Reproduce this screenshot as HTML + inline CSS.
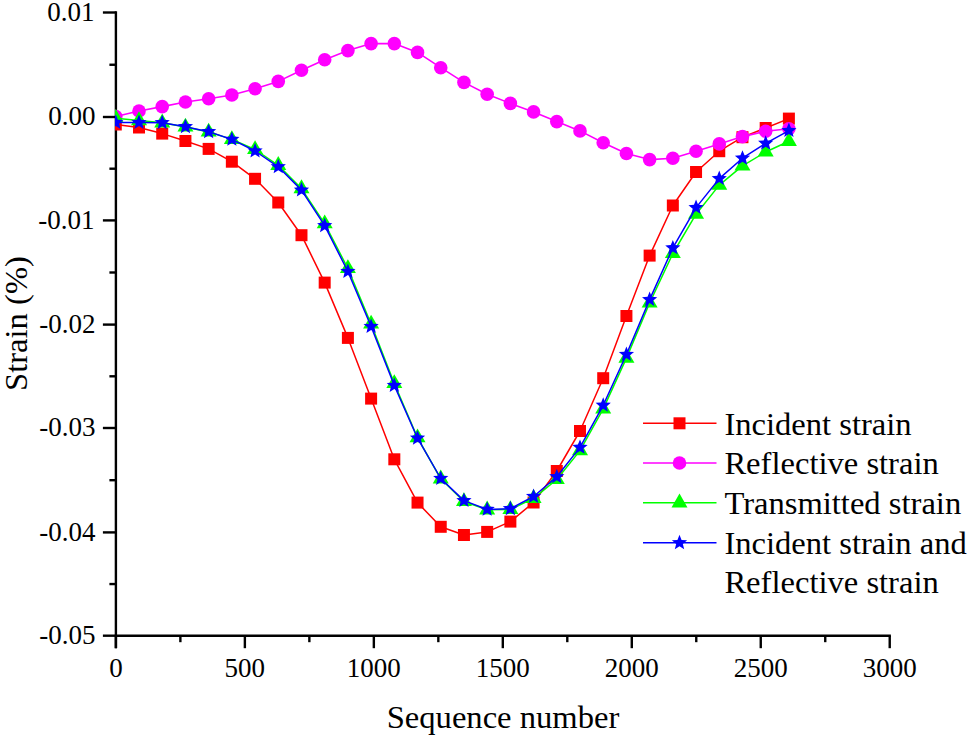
<!DOCTYPE html>
<html><head><meta charset="utf-8"><style>
html,body{margin:0;padding:0;background:#fff;}
body{width:968px;height:738px;overflow:hidden;}
svg{display:block;}
text{font-family:"Liberation Serif", serif;fill:#000;}
</style></head><body>
<svg width="968" height="738" viewBox="0 0 968 738">
<defs><clipPath id="pa"><rect x="115" y="0" width="780" height="636"/></clipPath></defs>
<rect width="968" height="738" fill="#fff"/>
<line x1="115.9" y1="11.35" x2="115.9" y2="648.2" stroke="#000" stroke-width="2.4"/>
<line x1="114.75" y1="635.7" x2="890.8699999999999" y2="635.7" stroke="#000" stroke-width="2.4"/>
<line x1="102.9" y1="12.50" x2="115.9" y2="12.50" stroke="#000" stroke-width="2.4"/>
<line x1="109.4" y1="64.75" x2="115.9" y2="64.75" stroke="#000" stroke-width="2.4"/>
<text x="94.5" y="20.70" font-size="27" text-anchor="end">0.01</text>
<line x1="102.9" y1="117.00" x2="115.9" y2="117.00" stroke="#000" stroke-width="2.4"/>
<line x1="109.4" y1="168.70" x2="115.9" y2="168.70" stroke="#000" stroke-width="2.4"/>
<text x="95.5" y="125.20" font-size="27" text-anchor="end">0.00</text>
<line x1="102.9" y1="220.40" x2="115.9" y2="220.40" stroke="#000" stroke-width="2.4"/>
<line x1="109.4" y1="272.50" x2="115.9" y2="272.50" stroke="#000" stroke-width="2.4"/>
<text x="94.5" y="228.60" font-size="27" text-anchor="end">-0.01</text>
<line x1="102.9" y1="324.60" x2="115.9" y2="324.60" stroke="#000" stroke-width="2.4"/>
<line x1="109.4" y1="376.30" x2="115.9" y2="376.30" stroke="#000" stroke-width="2.4"/>
<text x="95.5" y="332.80" font-size="27" text-anchor="end">-0.02</text>
<line x1="102.9" y1="428.00" x2="115.9" y2="428.00" stroke="#000" stroke-width="2.4"/>
<line x1="109.4" y1="480.20" x2="115.9" y2="480.20" stroke="#000" stroke-width="2.4"/>
<text x="95.5" y="436.20" font-size="27" text-anchor="end">-0.03</text>
<line x1="102.9" y1="532.40" x2="115.9" y2="532.40" stroke="#000" stroke-width="2.4"/>
<line x1="109.4" y1="584.05" x2="115.9" y2="584.05" stroke="#000" stroke-width="2.4"/>
<text x="95.5" y="540.60" font-size="27" text-anchor="end">-0.04</text>
<line x1="102.9" y1="635.70" x2="115.9" y2="635.70" stroke="#000" stroke-width="2.4"/>
<text x="95.5" y="643.90" font-size="27" text-anchor="end">-0.05</text>
<line x1="115.90" y1="635.7" x2="115.90" y2="648.2" stroke="#000" stroke-width="2.4"/>
<line x1="180.38" y1="635.7" x2="180.38" y2="642.2" stroke="#000" stroke-width="2.4"/>
<text x="115.90" y="676.8" font-size="27" text-anchor="middle">0</text>
<line x1="244.87" y1="635.7" x2="244.87" y2="648.2" stroke="#000" stroke-width="2.4"/>
<line x1="309.36" y1="635.7" x2="309.36" y2="642.2" stroke="#000" stroke-width="2.4"/>
<text x="244.87" y="676.8" font-size="27" text-anchor="middle">500</text>
<line x1="373.84" y1="635.7" x2="373.84" y2="648.2" stroke="#000" stroke-width="2.4"/>
<line x1="438.33" y1="635.7" x2="438.33" y2="642.2" stroke="#000" stroke-width="2.4"/>
<text x="373.84" y="676.8" font-size="27" text-anchor="middle">1000</text>
<line x1="502.81" y1="635.7" x2="502.81" y2="648.2" stroke="#000" stroke-width="2.4"/>
<line x1="567.29" y1="635.7" x2="567.29" y2="642.2" stroke="#000" stroke-width="2.4"/>
<text x="502.81" y="676.8" font-size="27" text-anchor="middle">1500</text>
<line x1="631.78" y1="635.7" x2="631.78" y2="648.2" stroke="#000" stroke-width="2.4"/>
<line x1="696.26" y1="635.7" x2="696.26" y2="642.2" stroke="#000" stroke-width="2.4"/>
<text x="631.78" y="676.8" font-size="27" text-anchor="middle">2000</text>
<line x1="760.75" y1="635.7" x2="760.75" y2="648.2" stroke="#000" stroke-width="2.4"/>
<line x1="825.24" y1="635.7" x2="825.24" y2="642.2" stroke="#000" stroke-width="2.4"/>
<text x="760.75" y="676.8" font-size="27" text-anchor="middle">2500</text>
<line x1="889.72" y1="635.7" x2="889.72" y2="648.2" stroke="#000" stroke-width="2.4"/>
<text x="889.72" y="676.8" font-size="27" text-anchor="middle">3000</text>
<g clip-path="url(#pa)">
<polyline points="115.80,124.50 139.01,127.50 162.22,133.60 185.43,141.00 208.64,148.90 231.85,161.70 255.06,178.80 278.27,202.50 301.48,235.20 324.69,282.60 347.90,337.90 371.11,398.60 394.32,459.30 417.53,502.60 440.74,526.80 463.95,535.00 487.16,531.90 510.37,521.60 533.58,502.50 556.79,471.00 580.00,431.00 603.21,378.20 626.42,316.00 649.63,255.60 672.84,205.50 696.05,172.00 719.26,151.20 742.47,137.20 765.68,128.00 788.89,118.60" fill="none" stroke="#ff0000" stroke-width="1.5" stroke-linejoin="round"/>
<rect x="109.80" y="118.50" width="12.0" height="12.0" fill="#ff0000"/>
<rect x="133.01" y="121.50" width="12.0" height="12.0" fill="#ff0000"/>
<rect x="156.22" y="127.60" width="12.0" height="12.0" fill="#ff0000"/>
<rect x="179.43" y="135.00" width="12.0" height="12.0" fill="#ff0000"/>
<rect x="202.64" y="142.90" width="12.0" height="12.0" fill="#ff0000"/>
<rect x="225.85" y="155.70" width="12.0" height="12.0" fill="#ff0000"/>
<rect x="249.06" y="172.80" width="12.0" height="12.0" fill="#ff0000"/>
<rect x="272.27" y="196.50" width="12.0" height="12.0" fill="#ff0000"/>
<rect x="295.48" y="229.20" width="12.0" height="12.0" fill="#ff0000"/>
<rect x="318.69" y="276.60" width="12.0" height="12.0" fill="#ff0000"/>
<rect x="341.90" y="331.90" width="12.0" height="12.0" fill="#ff0000"/>
<rect x="365.11" y="392.60" width="12.0" height="12.0" fill="#ff0000"/>
<rect x="388.32" y="453.30" width="12.0" height="12.0" fill="#ff0000"/>
<rect x="411.53" y="496.60" width="12.0" height="12.0" fill="#ff0000"/>
<rect x="434.74" y="520.80" width="12.0" height="12.0" fill="#ff0000"/>
<rect x="457.95" y="529.00" width="12.0" height="12.0" fill="#ff0000"/>
<rect x="481.16" y="525.90" width="12.0" height="12.0" fill="#ff0000"/>
<rect x="504.37" y="515.60" width="12.0" height="12.0" fill="#ff0000"/>
<rect x="527.58" y="496.50" width="12.0" height="12.0" fill="#ff0000"/>
<rect x="550.79" y="465.00" width="12.0" height="12.0" fill="#ff0000"/>
<rect x="574.00" y="425.00" width="12.0" height="12.0" fill="#ff0000"/>
<rect x="597.21" y="372.20" width="12.0" height="12.0" fill="#ff0000"/>
<rect x="620.42" y="310.00" width="12.0" height="12.0" fill="#ff0000"/>
<rect x="643.63" y="249.60" width="12.0" height="12.0" fill="#ff0000"/>
<rect x="666.84" y="199.50" width="12.0" height="12.0" fill="#ff0000"/>
<rect x="690.05" y="166.00" width="12.0" height="12.0" fill="#ff0000"/>
<rect x="713.26" y="145.20" width="12.0" height="12.0" fill="#ff0000"/>
<rect x="736.47" y="131.20" width="12.0" height="12.0" fill="#ff0000"/>
<rect x="759.68" y="122.00" width="12.0" height="12.0" fill="#ff0000"/>
<rect x="782.89" y="112.60" width="12.0" height="12.0" fill="#ff0000"/>
<polyline points="115.80,116.50 139.01,111.00 162.22,106.60 185.43,102.00 208.64,98.70 231.85,95.00 255.06,88.80 278.27,81.40 301.48,70.20 324.69,59.70 347.90,50.60 371.11,43.60 394.32,43.60 417.53,52.40 440.74,67.70 463.95,82.40 487.16,94.30 510.37,103.40 533.58,111.90 556.79,121.60 580.00,130.90 603.21,142.70 626.42,153.50 649.63,159.60 672.84,158.20 696.05,151.20 719.26,143.90 742.47,136.60 765.68,131.30 788.89,128.80" fill="none" stroke="#ff00ff" stroke-width="1.6" stroke-linejoin="round"/>
<circle cx="115.80" cy="116.50" r="6.8" fill="#ff00ff"/>
<circle cx="139.01" cy="111.00" r="6.8" fill="#ff00ff"/>
<circle cx="162.22" cy="106.60" r="6.8" fill="#ff00ff"/>
<circle cx="185.43" cy="102.00" r="6.8" fill="#ff00ff"/>
<circle cx="208.64" cy="98.70" r="6.8" fill="#ff00ff"/>
<circle cx="231.85" cy="95.00" r="6.8" fill="#ff00ff"/>
<circle cx="255.06" cy="88.80" r="6.8" fill="#ff00ff"/>
<circle cx="278.27" cy="81.40" r="6.8" fill="#ff00ff"/>
<circle cx="301.48" cy="70.20" r="6.8" fill="#ff00ff"/>
<circle cx="324.69" cy="59.70" r="6.8" fill="#ff00ff"/>
<circle cx="347.90" cy="50.60" r="6.8" fill="#ff00ff"/>
<circle cx="371.11" cy="43.60" r="6.8" fill="#ff00ff"/>
<circle cx="394.32" cy="43.60" r="6.8" fill="#ff00ff"/>
<circle cx="417.53" cy="52.40" r="6.8" fill="#ff00ff"/>
<circle cx="440.74" cy="67.70" r="6.8" fill="#ff00ff"/>
<circle cx="463.95" cy="82.40" r="6.8" fill="#ff00ff"/>
<circle cx="487.16" cy="94.30" r="6.8" fill="#ff00ff"/>
<circle cx="510.37" cy="103.40" r="6.8" fill="#ff00ff"/>
<circle cx="533.58" cy="111.90" r="6.8" fill="#ff00ff"/>
<circle cx="556.79" cy="121.60" r="6.8" fill="#ff00ff"/>
<circle cx="580.00" cy="130.90" r="6.8" fill="#ff00ff"/>
<circle cx="603.21" cy="142.70" r="6.8" fill="#ff00ff"/>
<circle cx="626.42" cy="153.50" r="6.8" fill="#ff00ff"/>
<circle cx="649.63" cy="159.60" r="6.8" fill="#ff00ff"/>
<circle cx="672.84" cy="158.20" r="6.8" fill="#ff00ff"/>
<circle cx="696.05" cy="151.20" r="6.8" fill="#ff00ff"/>
<circle cx="719.26" cy="143.90" r="6.8" fill="#ff00ff"/>
<circle cx="742.47" cy="136.60" r="6.8" fill="#ff00ff"/>
<circle cx="765.68" cy="131.30" r="6.8" fill="#ff00ff"/>
<circle cx="788.89" cy="128.80" r="6.8" fill="#ff00ff"/>
<polyline points="115.80,118.30 139.01,120.60 162.22,122.80 185.43,126.90 208.64,131.90 231.85,139.40 255.06,149.50 278.27,165.30 301.48,188.60 324.69,223.70 347.90,268.50 371.11,324.00 394.32,383.50 417.53,437.70 440.74,478.80 463.95,501.50 487.16,509.80 510.37,509.50 533.58,498.30 556.79,479.50 580.00,450.60 603.21,408.90 626.42,358.10 649.63,303.00 672.84,253.50 696.05,214.20 719.26,185.10 742.47,165.80 765.68,152.00 788.89,141.30" fill="none" stroke="#00ff00" stroke-width="1.5" stroke-linejoin="round"/>
<polygon points="115.80,109.06 123.80,122.92 107.80,122.92" fill="#00ff00"/>
<polygon points="139.01,111.36 147.01,125.22 131.01,125.22" fill="#00ff00"/>
<polygon points="162.22,113.56 170.22,127.42 154.22,127.42" fill="#00ff00"/>
<polygon points="185.43,117.66 193.43,131.52 177.43,131.52" fill="#00ff00"/>
<polygon points="208.64,122.66 216.64,136.52 200.64,136.52" fill="#00ff00"/>
<polygon points="231.85,130.16 239.85,144.02 223.85,144.02" fill="#00ff00"/>
<polygon points="255.06,140.26 263.06,154.12 247.06,154.12" fill="#00ff00"/>
<polygon points="278.27,156.06 286.27,169.92 270.27,169.92" fill="#00ff00"/>
<polygon points="301.48,179.36 309.48,193.22 293.48,193.22" fill="#00ff00"/>
<polygon points="324.69,214.46 332.69,228.32 316.69,228.32" fill="#00ff00"/>
<polygon points="347.90,259.26 355.90,273.12 339.90,273.12" fill="#00ff00"/>
<polygon points="371.11,314.76 379.11,328.62 363.11,328.62" fill="#00ff00"/>
<polygon points="394.32,374.26 402.32,388.12 386.32,388.12" fill="#00ff00"/>
<polygon points="417.53,428.46 425.53,442.32 409.53,442.32" fill="#00ff00"/>
<polygon points="440.74,469.56 448.74,483.42 432.74,483.42" fill="#00ff00"/>
<polygon points="463.95,492.26 471.95,506.12 455.95,506.12" fill="#00ff00"/>
<polygon points="487.16,500.56 495.16,514.42 479.16,514.42" fill="#00ff00"/>
<polygon points="510.37,500.26 518.37,514.12 502.37,514.12" fill="#00ff00"/>
<polygon points="533.58,489.06 541.58,502.92 525.58,502.92" fill="#00ff00"/>
<polygon points="556.79,470.26 564.79,484.12 548.79,484.12" fill="#00ff00"/>
<polygon points="580.00,441.36 588.00,455.22 572.00,455.22" fill="#00ff00"/>
<polygon points="603.21,399.66 611.21,413.52 595.21,413.52" fill="#00ff00"/>
<polygon points="626.42,348.86 634.42,362.72 618.42,362.72" fill="#00ff00"/>
<polygon points="649.63,293.76 657.63,307.62 641.63,307.62" fill="#00ff00"/>
<polygon points="672.84,244.26 680.84,258.12 664.84,258.12" fill="#00ff00"/>
<polygon points="696.05,204.96 704.05,218.82 688.05,218.82" fill="#00ff00"/>
<polygon points="719.26,175.86 727.26,189.72 711.26,189.72" fill="#00ff00"/>
<polygon points="742.47,156.56 750.47,170.42 734.47,170.42" fill="#00ff00"/>
<polygon points="765.68,142.76 773.68,156.62 757.68,156.62" fill="#00ff00"/>
<polygon points="788.89,132.06 796.89,145.92 780.89,145.92" fill="#00ff00"/>
<polyline points="115.80,122.50 139.01,122.60 162.22,122.70 185.43,126.70 208.64,131.70 231.85,139.40 255.06,151.00 278.27,166.80 301.48,190.10 324.69,225.70 347.90,271.50 371.11,326.50 394.32,385.50 417.53,438.20 440.74,478.50 463.95,500.60 487.16,509.40 510.37,508.70 533.58,496.50 556.79,476.80 580.00,447.40 603.21,405.30 626.42,354.50 649.63,299.60 672.84,247.90 696.05,207.60 719.26,178.60 742.47,158.20 765.68,143.30 788.89,130.60" fill="none" stroke="#0000ff" stroke-width="1.5" stroke-linejoin="round"/>
<polygon points="115.80,114.50 117.86,119.67 123.41,120.03 119.13,123.58 120.50,128.97 115.80,126.00 111.10,128.97 112.47,123.58 108.19,120.03 113.74,119.67" fill="#0000ff"/>
<polygon points="139.01,114.60 141.07,119.77 146.62,120.13 142.34,123.68 143.71,129.07 139.01,126.10 134.31,129.07 135.68,123.68 131.40,120.13 136.95,119.77" fill="#0000ff"/>
<polygon points="162.22,114.70 164.28,119.87 169.83,120.23 165.55,123.78 166.92,129.17 162.22,126.20 157.52,129.17 158.89,123.78 154.61,120.23 160.16,119.87" fill="#0000ff"/>
<polygon points="185.43,118.70 187.49,123.87 193.04,124.23 188.76,127.78 190.13,133.17 185.43,130.20 180.73,133.17 182.10,127.78 177.82,124.23 183.37,123.87" fill="#0000ff"/>
<polygon points="208.64,123.70 210.70,128.87 216.25,129.23 211.97,132.78 213.34,138.17 208.64,135.20 203.94,138.17 205.31,132.78 201.03,129.23 206.58,128.87" fill="#0000ff"/>
<polygon points="231.85,131.40 233.91,136.57 239.46,136.93 235.18,140.48 236.55,145.87 231.85,142.90 227.15,145.87 228.52,140.48 224.24,136.93 229.79,136.57" fill="#0000ff"/>
<polygon points="255.06,143.00 257.12,148.17 262.67,148.53 258.39,152.08 259.76,157.47 255.06,154.50 250.36,157.47 251.73,152.08 247.45,148.53 253.00,148.17" fill="#0000ff"/>
<polygon points="278.27,158.80 280.33,163.97 285.88,164.33 281.60,167.88 282.97,173.27 278.27,170.30 273.57,173.27 274.94,167.88 270.66,164.33 276.21,163.97" fill="#0000ff"/>
<polygon points="301.48,182.10 303.54,187.27 309.09,187.63 304.81,191.18 306.18,196.57 301.48,193.60 296.78,196.57 298.15,191.18 293.87,187.63 299.42,187.27" fill="#0000ff"/>
<polygon points="324.69,217.70 326.75,222.87 332.30,223.23 328.02,226.78 329.39,232.17 324.69,229.20 319.99,232.17 321.36,226.78 317.08,223.23 322.63,222.87" fill="#0000ff"/>
<polygon points="347.90,263.50 349.96,268.67 355.51,269.03 351.23,272.58 352.60,277.97 347.90,275.00 343.20,277.97 344.57,272.58 340.29,269.03 345.84,268.67" fill="#0000ff"/>
<polygon points="371.11,318.50 373.17,323.67 378.72,324.03 374.44,327.58 375.81,332.97 371.11,330.00 366.41,332.97 367.78,327.58 363.50,324.03 369.05,323.67" fill="#0000ff"/>
<polygon points="394.32,377.50 396.38,382.67 401.93,383.03 397.65,386.58 399.02,391.97 394.32,389.00 389.62,391.97 390.99,386.58 386.71,383.03 392.26,382.67" fill="#0000ff"/>
<polygon points="417.53,430.20 419.59,435.37 425.14,435.73 420.86,439.28 422.23,444.67 417.53,441.70 412.83,444.67 414.20,439.28 409.92,435.73 415.47,435.37" fill="#0000ff"/>
<polygon points="440.74,470.50 442.80,475.67 448.35,476.03 444.07,479.58 445.44,484.97 440.74,482.00 436.04,484.97 437.41,479.58 433.13,476.03 438.68,475.67" fill="#0000ff"/>
<polygon points="463.95,492.60 466.01,497.77 471.56,498.13 467.28,501.68 468.65,507.07 463.95,504.10 459.25,507.07 460.62,501.68 456.34,498.13 461.89,497.77" fill="#0000ff"/>
<polygon points="487.16,501.40 489.22,506.57 494.77,506.93 490.49,510.48 491.86,515.87 487.16,512.90 482.46,515.87 483.83,510.48 479.55,506.93 485.10,506.57" fill="#0000ff"/>
<polygon points="510.37,500.70 512.43,505.87 517.98,506.23 513.70,509.78 515.07,515.17 510.37,512.20 505.67,515.17 507.04,509.78 502.76,506.23 508.31,505.87" fill="#0000ff"/>
<polygon points="533.58,488.50 535.64,493.67 541.19,494.03 536.91,497.58 538.28,502.97 533.58,500.00 528.88,502.97 530.25,497.58 525.97,494.03 531.52,493.67" fill="#0000ff"/>
<polygon points="556.79,468.80 558.85,473.97 564.40,474.33 560.12,477.88 561.49,483.27 556.79,480.30 552.09,483.27 553.46,477.88 549.18,474.33 554.73,473.97" fill="#0000ff"/>
<polygon points="580.00,439.40 582.06,444.57 587.61,444.93 583.33,448.48 584.70,453.87 580.00,450.90 575.30,453.87 576.67,448.48 572.39,444.93 577.94,444.57" fill="#0000ff"/>
<polygon points="603.21,397.30 605.27,402.47 610.82,402.83 606.54,406.38 607.91,411.77 603.21,408.80 598.51,411.77 599.88,406.38 595.60,402.83 601.15,402.47" fill="#0000ff"/>
<polygon points="626.42,346.50 628.48,351.67 634.03,352.03 629.75,355.58 631.12,360.97 626.42,358.00 621.72,360.97 623.09,355.58 618.81,352.03 624.36,351.67" fill="#0000ff"/>
<polygon points="649.63,291.60 651.69,296.77 657.24,297.13 652.96,300.68 654.33,306.07 649.63,303.10 644.93,306.07 646.30,300.68 642.02,297.13 647.57,296.77" fill="#0000ff"/>
<polygon points="672.84,239.90 674.90,245.07 680.45,245.43 676.17,248.98 677.54,254.37 672.84,251.40 668.14,254.37 669.51,248.98 665.23,245.43 670.78,245.07" fill="#0000ff"/>
<polygon points="696.05,199.60 698.11,204.77 703.66,205.13 699.38,208.68 700.75,214.07 696.05,211.10 691.35,214.07 692.72,208.68 688.44,205.13 693.99,204.77" fill="#0000ff"/>
<polygon points="719.26,170.60 721.32,175.77 726.87,176.13 722.59,179.68 723.96,185.07 719.26,182.10 714.56,185.07 715.93,179.68 711.65,176.13 717.20,175.77" fill="#0000ff"/>
<polygon points="742.47,150.20 744.53,155.37 750.08,155.73 745.80,159.28 747.17,164.67 742.47,161.70 737.77,164.67 739.14,159.28 734.86,155.73 740.41,155.37" fill="#0000ff"/>
<polygon points="765.68,135.30 767.74,140.47 773.29,140.83 769.01,144.38 770.38,149.77 765.68,146.80 760.98,149.77 762.35,144.38 758.07,140.83 763.62,140.47" fill="#0000ff"/>
<polygon points="788.89,122.60 790.95,127.77 796.50,128.13 792.22,131.68 793.59,137.07 788.89,134.10 784.19,137.07 785.56,131.68 781.28,128.13 786.83,127.77" fill="#0000ff"/>
</g>
<text x="503" y="728.2" font-size="32.6" text-anchor="middle">Sequence number</text>
<text transform="translate(27.2,323.5) rotate(-90)" font-size="32.6" text-anchor="middle">Strain (%)</text>
<line x1="643" y1="423.3" x2="716.5" y2="423.3" stroke="#ff0000" stroke-width="1.5"/>
<rect x="673.50" y="417.30" width="12.0" height="12.0" fill="#ff0000"/>
<line x1="643" y1="463.0" x2="716.5" y2="463.0" stroke="#ff00ff" stroke-width="1.6"/>
<circle cx="679.50" cy="463.00" r="6.8" fill="#ff00ff"/>
<line x1="643" y1="502.8" x2="716.5" y2="502.8" stroke="#00ff00" stroke-width="1.5"/>
<polygon points="679.50,493.56 687.50,507.42 671.50,507.42" fill="#00ff00"/>
<line x1="643" y1="542.8" x2="716.5" y2="542.8" stroke="#0000ff" stroke-width="1.5"/>
<polygon points="679.50,534.80 681.56,539.97 687.11,540.33 682.83,543.88 684.20,549.27 679.50,546.30 674.80,549.27 676.17,543.88 671.89,540.33 677.44,539.97" fill="#0000ff"/>
<text x="724.4" y="434.5" font-size="32.6">Incident strain</text>
<text x="724.4" y="474.2" font-size="32.6">Reflective strain</text>
<text x="724.4" y="513.9" font-size="32.6">Transmitted strain</text>
<text x="724.4" y="553.6" font-size="32.6">Incident strain and</text>
<text x="724.4" y="593.3" font-size="32.6">Reflective strain</text>
</svg></body></html>
